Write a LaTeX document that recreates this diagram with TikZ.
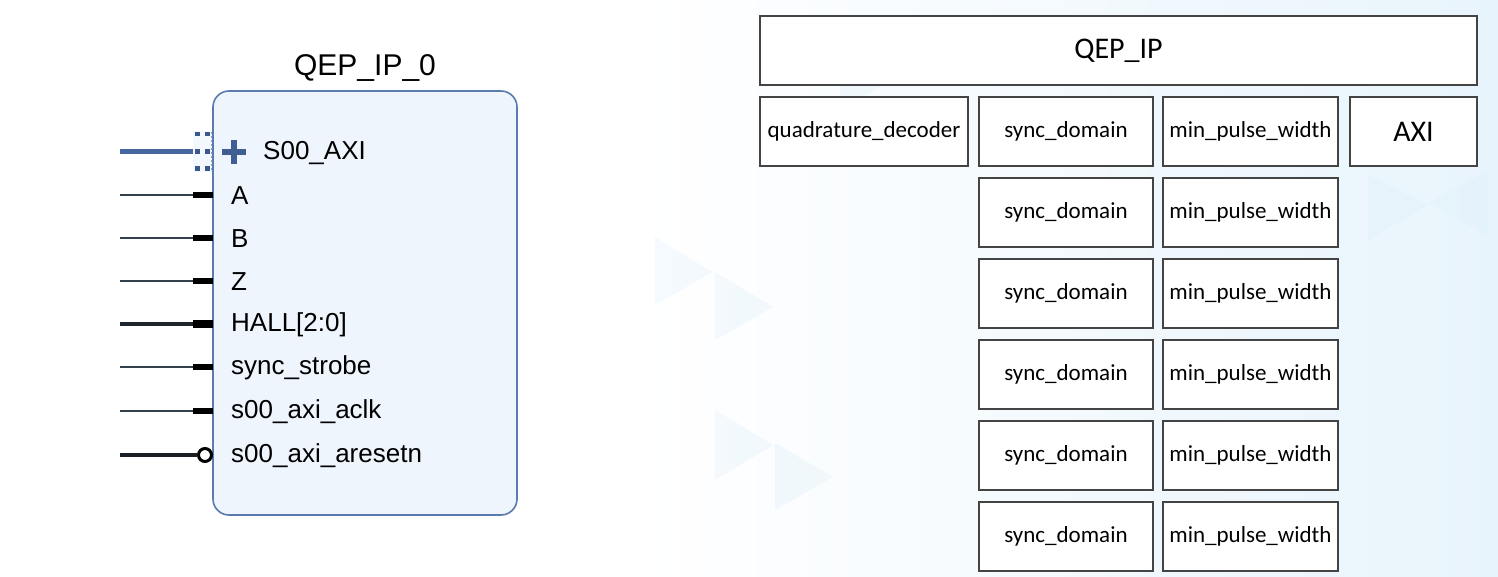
\documentclass[tikz,border=0pt]{standalone}
\usepackage{fontspec}
\setmainfont{Liberation Sans}
\newfontfamily\calfont{Carlito}
\definecolor{blockfill}{HTML}{EEF5FD}
\definecolor{blockedge}{HTML}{5B7BAE}
\definecolor{busblue}{HTML}{4767A0}
\definecolor{plusblue}{HTML}{3F5F93}
\definecolor{wire}{HTML}{34404C}
\definecolor{boxedge}{HTML}{444444}
\definecolor{bgblue}{HTML}{E8F4FC}
\definecolor{tri}{HTML}{DDEFFA}
\tikzset{
  pinlabel/.style={anchor=west, inner sep=0pt, font=\fontsize{26}{29}\selectfont},
  thinwire/.style={draw=wire, line width=2pt},
  stub/.style={draw=black, line width=5.5pt},
  subbox/.style={draw=boxedge, line width=1.4pt, fill=white, inner sep=0pt,
     font=\calfont\fontsize{23}{26}\selectfont},
  sq/.style={fill=busblue!85!black, draw=none},
}
\begin{document}
\begin{tikzpicture}[x=1pt,y=-1pt]
\useasboundingbox (0,0) rectangle (1498,577);
% background
\fill[white] (0,0) rectangle (1498,577);
\shade[left color=white, right color=bgblue, shading angle=90] (640,0) rectangle (1498,577);
\begin{scope}[opacity=0.3]
\fill[tri] (655,237) -- (712,272) -- (655,305) -- cycle;
\fill[tri] (715,272) -- (773,307) -- (715,340) -- cycle;
\fill[tri] (775,443) -- (833,477) -- (775,510) -- cycle;
\fill[tri] (715,410) -- (773,445) -- (715,480) -- cycle;
\fill[tri] (840,40) -- (900,75) -- (840,110) -- cycle;
\fill[tri] (1488,170) -- (1430,203) -- (1488,236) -- cycle;
\fill[tri] (1368,175) -- (1428,205) -- (1368,240) -- cycle;
\end{scope}

% left IP block
\node[font=\fontsize{30}{34}\selectfont, inner sep=0pt] (title) at (365,68) {QEP\_IP\_0};
\draw[blockedge, fill=blockfill, line width=1.6pt, rounded corners=16pt] (213,91) rectangle (517,515);
\coordinate (blk) at (213,91);

% S00_AXI bus pin
\coordinate (busL) at (120,152);
\coordinate (busR) at (193,152);
\draw[busblue, line width=5pt] (busL) -- (busR);
\fill[blockfill!70!white] (193,131) rectangle (212,172);
\foreach \yy in {132,149.5,166.5}{
  \fill[sq] (195,\yy) rectangle (200,\yy+4.5);
  \fill[sq] (205,\yy) rectangle (210,\yy+4.5);
}
\draw[busblue!60, line width=1pt, dash pattern=on 2pt off 2pt] (211.5,132) -- (211.5,171);
\node[inner sep=0pt] (plus) at (234,152) {};
\draw[plusblue, line width=5.5pt] (222,152) -- (246,152);
\draw[plusblue, line width=5.5pt] (234,140) -- (234,164);
\node[pinlabel] (s00) at (263,153) {S00\_AXI};

% scalar pins
\foreach \nm/\yy/\txt in {a/195/A, b/238/B, z/281/Z, sync/367/sync\_strobe, clk/411/s00\_axi\_aclk}{
  \coordinate (\nm L) at (120,\yy);
  \coordinate (\nm M) at (193,\yy);
  \coordinate (\nm R) at (213,\yy);
  \draw[thinwire] (\nm L) -- (\nm M);
  \draw[stub] (\nm M) -- (\nm R);
  \node[pinlabel] (\nm lab) at (231,\yy+1) {\txt};
}
% HALL bus
\coordinate (hallL) at (120,324);
\coordinate (hallM) at (193,324);
\coordinate (hallR) at (213,324);
\draw[draw=wire!60!black, line width=4pt] (hallL) -- (hallM);
\draw[draw=black, line width=8.5pt] (hallM) -- (hallR);
\node[pinlabel] (halllab) at (231,325) {HALL[2:0]};
% reset (active low)
\coordinate (rstL) at (120,455);
\node[circle, draw=black, fill=white, line width=3pt, minimum size=13pt, inner sep=0pt] (rstC) at (205,455) {};
\draw[draw=wire!50!black, line width=4pt] (rstL) -- (rstC.west);
\node[pinlabel] (rstlab) at (231,456) {s00\_axi\_aresetn};

% right hierarchy
\node[subbox, minimum width=717pt, minimum height=69pt, font=\calfont\fontsize{30}{34}\selectfont] (top) at (1118.5,50.5) {QEP\_IP};
\node[subbox, minimum width=208pt, minimum height=69pt] (qd) at (864,131.5) {quadrature\_decoder};
\node[subbox, minimum width=127pt, minimum height=69pt, font=\calfont\fontsize{30}{34}\selectfont] (axi) at (1413.5,131.5) {AXI};
\foreach \i/\yy in {1/131.5, 2/212.5, 3/293.5, 4/374.5, 5/455.5, 6/536.5}{
  \node[subbox, minimum width=174pt, minimum height=69pt] (sd\i) at (1066,\yy) {sync\_domain};
  \node[subbox, minimum width=175pt, minimum height=69pt] (mp\i) at (1250.5,\yy) {min\_pulse\_width};
}
\end{tikzpicture}
\end{document}
